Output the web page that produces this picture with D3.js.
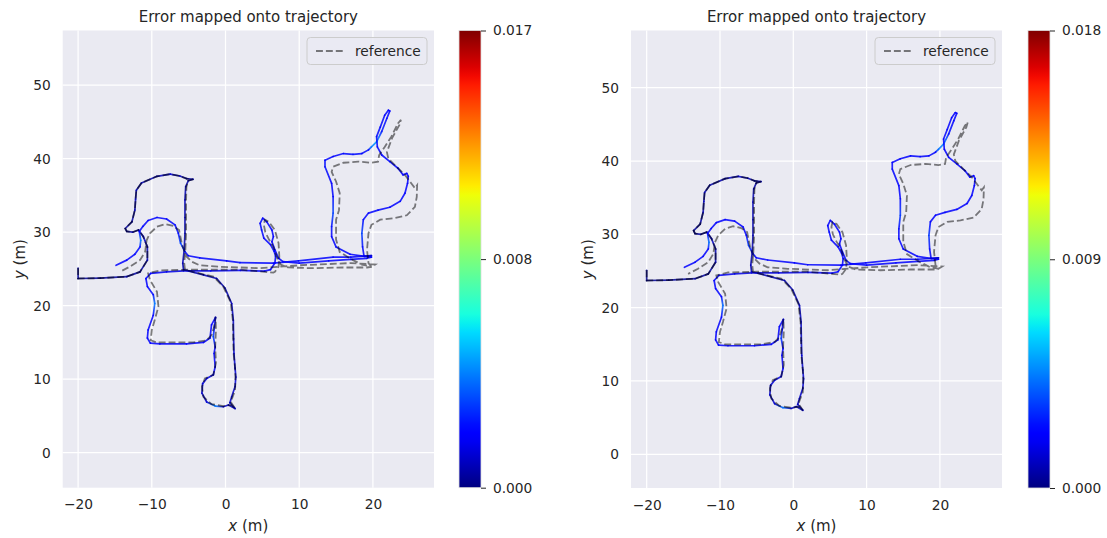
<!DOCTYPE html>
<html><head><meta charset="utf-8">
<script src="https://cdn.jsdelivr.net/npm/d3@7"></script>
<style>body{margin:0;background:#fff}text{font-family:"DejaVu Sans",sans-serif;fill:#262626}</style>
</head><body><svg id="c" width="1107" height="538"></svg>
<script>
// ---------- data ----------
const title = "Error mapped onto trajectory";
const xTicks = [-20, -10, 0, 10, 20];
const yTicks = [0, 10, 20, 30, 40, 50];
const cbMaxLeft = 0.017, cbMaxRight = 0.018;
const cbTicksLeft = [0, 0.0085, 0.017], cbLabelsLeft = ["0.000", "0.008", "0.017"];
const cbTicksRight = [0, 0.009, 0.018], cbLabelsRight = ["0.000", "0.009", "0.018"];
const legendLabel = "reference";

// estimated trajectory: [x, y, error]
const estStart = [[-20,25.1,.0003],[-20,23.7,.0003],[-17,23.75,.0004],[-13.4,23.95,.0004],[-11.6,24.6,.0005],[-10.6,26.2,.0006],[-10.6,28.0,.0008],[-11.15,29.4,.0012],[-11.8,30.3,.0006],[-12.6,30.0,.0005],[-13.4,30.1,.0004],[-13.6,30.5,.0004],[-12.7,31.4,.0005],[-12.3,33.0,.0006],[-12.2,34.5,.0008],[-12.1,35.7,.0006],[-11.4,36.7,.0005],[-9.3,37.6,.0007],[-7.5,37.9,.0012],[-6.2,37.65,.0008],[-5.3,37.3,.0006],[-4.4,37.2,.0005],[-5.05,37.0,.0005],[-5.4,36.2,.0006],[-5.5,34.4,.0008],[-5.5,32.0,.0007],[-5.5,29.85,.0006],[-5.6,27.6,.0007],[-5.8,25.8,.0008],[-5.7,24.9,.0008]];
const estLower = [[-3.0,24.2,.0007],[-1.2,23.7,.0006],[-0.07,22.4,.0006],[0.84,20.3,.0008],[1.06,18.05,.001],[1.1,15.5,.0009],[1.15,13.5,.0011],[1.3,11.5,.0012],[1.4,10.3,.0013],[1.3,9.0,.0012],[0.84,7.6,.001],[0.6,6.8,.0009],[1.3,6.0,.0008],[0.4,6.5,.0009],[-0.3,6.25,.001],[-1.4,6.35,.0042],[-2.55,6.9,.0012],[-3.2,8.1,.001],[-3.1,9.4,.0012],[-2.55,10.1,.0014],[-1.65,10.6,.0016],[-1.4,11.7,.0018],[-1.55,13.5,.0019],[-1.4,14.4,.002],[-1.65,15.8,.0032],[-1.5,17.1,.0023],[-1.35,18.4,.0021],[-1.9,17.4,.0019],[-2.1,15.6,.002],[-3.0,15.0,.0021],[-5.3,14.8,.002],[-8.9,14.8,.0019],[-10.2,14.9,.0021],[-10.6,15.6,.002],[-10.5,16.7,.0019],[-9.8,18.7,.0021],[-9.6,20.3,.0042],[-9.8,21.5,.0023],[-10.6,22.6,.0021],[-10.8,23.7,.002],[-10.15,24.4,.0019]];
const estMiddle = [[-8,24.6,.0016],[-5.7,24.75,.0014],[-2,24.75,.0016],[2,24.8,.0018],[5.3,24.7,.0019],[6.1,24.9,.002],[6.7,25.8,.0021],[6.8,26.7,.0022],[6.6,27.4,.0021],[6.1,28.3,.002],[5.2,29.2,.0021],[4.9,30.3,.0023],[4.7,31.2,.0022],[5.05,31.9,.0021],[5.6,31.4,.002],[6.3,30.3,.0021],[6.5,29.4,.002],[6.3,28.7,.0019],[6.7,27.6,.002],[7.2,26.45,.0021],[7.8,26.0,.002],[10,25.8,.0021],[14,26.1,.002],[17,26.3,.0021],[19.2,26.45,.0022],[19.8,26.6,.002]];
const estRight = [[18.9,26.7,.0019],[16.9,27.0,.0021],[15.0,28.0,.0022],[14.4,29.4,.0021],[14.4,30.75,.0023],[14.6,32.6,.0032],[14.6,34.85,.0022],[14.4,36.65,.0021],[13.5,38.9,.0023],[13.5,39.8,.0022],[14.6,40.3,.0021],[16.0,40.7,.0022],[17.3,40.6,.0023],[18.5,40.7,.0022],[19.4,41.2,.0023],[19.8,41.6,.0042],[20.5,42.3,.0047],[21.2,43.7,.0025],[21.9,45.5,.0022],[22.3,46.5,.0021],[22.1,46.6,.002],[21.6,45.9,.0021],[21.0,44.3,.0022],[20.5,43.0,.0023],[20.6,41.6,.0022],[21.2,40.5,.0021],[22.3,39.6,.0022],[23.4,38.7,.0021],[24.1,37.8,.002],[24.6,38.0,.0021],[24.8,37.6,.0019],[24.7,36.65,.002],[24.35,35.3,.0021],[23.7,34.2,.0022],[22.3,33.4,.0021],[20.7,33.0,.0022],[19.4,32.6,.0021],[18.7,31.7,.0022],[18.5,29.85,.0032],[18.6,28.0,.0023],[18.8,26.7,.0018],[19.8,26.8,.0013]];
const estReturn = [[17,26.6,.0019],[14.6,26.6,.0021],[9.9,26.1,.0022],[6.5,25.8,.0021],[1.97,25.85,.0023],[0.15,26.1,.0021],[-3.5,26.5,.0022],[-5.05,26.8,.0021],[-5.5,27.35,.0023],[-6.1,28.5,.0032],[-6.4,29.85,.0023],[-6.85,31.0,.0022],[-8.0,31.8,.0021],[-9.3,32.0,.0022],[-10.5,31.6,.0021],[-11.2,30.8,.0022],[-11.7,30.1,.0021],[-11.5,28.9,.0042],[-11.6,28.0,.0023],[-12.3,27.0,.0022],[-13.4,26.2,.0021],[-14.85,25.5,.0021]];

// reference trajectory: [x, y]
const refStart = [[-20,25.1],[-20,23.7],[-17,23.75],[-13.4,23.95],[-11.6,24.6],[-10.6,26.2],[-10.6,28.0],[-11.15,29.4],[-11.8,30.3],[-12.6,30.0],[-13.4,30.1],[-13.6,30.5],[-12.7,31.4],[-12.3,33.0],[-12.2,34.5],[-12.1,35.7],[-11.4,36.7],[-9.3,37.6],[-7.5,37.9],[-6.2,37.65],[-5.3,37.3],[-4.4,37.2],[-5.05,37.0],[-5.3,36.2],[-5.35,34.4],[-5.35,32.0],[-5.35,29.85],[-5.45,27.6],[-5.6,25.8],[-5.5,24.9]];
const refLower = [[-4.4,24.6],[-1.65,23.95],[-0.3,22.6],[0.7,20.5],[1.0,18.0],[1.05,15.5],[1.1,13.5],[1.3,11.5],[1.35,10.3],[1.3,8.5],[0.7,6.9],[1.3,6.0],[0.84,6.5],[-0.3,6.35],[-1.9,6.6],[-3.0,7.6],[-3.2,9.0],[-2.8,10.1],[-1.65,10.6],[-1.3,12.2],[-1.4,14.4],[-1.3,16.7],[-1.35,18.5],[-1.55,17.1],[-1.9,16.0],[-2.55,15.3],[-4.4,15.0],[-9.3,15.0],[-10.15,15.3],[-10.0,16.7],[-9.6,18.05],[-9.1,19.9],[-9.3,21.9],[-10.25,23.5],[-10.5,24.4]];
const refMiddle = [[-8.9,24.8],[-5,24.9],[2.0,24.9],[6.5,24.5],[6.7,24.6],[7.2,25.3],[7.3,26.7],[7.2,28.5],[6.7,30.3],[5.9,31.4],[5.35,31.7],[5.2,31.0],[5.4,30.0],[5.9,29.0],[6.5,28.0],[7.0,26.5],[7.5,25.6],[8.5,25.2],[11.9,25.1],[16,25.2],[19.2,25.2],[19.8,25.3]];
const refRight = [[18.5,25.6],[17.3,26.2],[15.5,27.3],[15.0,29.0],[15.0,31.7],[15.4,33.0],[15.5,35.3],[15.0,36.9],[14.4,38.2],[14.6,38.9],[16.0,39.45],[18.0,39.6],[19.8,39.45],[20.7,39.6],[20.85,40.5],[21.6,41.6],[22.5,43.0],[23.4,44.8],[23.8,45.3],[23.6,44.6],[22.6,42.8],[21.9,40.9],[22.1,40.0],[23.2,38.9],[24.35,37.8],[25.2,36.65],[25.7,36.0],[26.0,36.4],[25.95,34.8],[25.7,33.45],[24.6,32.3],[22.8,31.9],[21.0,31.7],[19.8,31.0],[19.4,29.85],[19.2,27.6],[19.4,25.8],[19.8,25.3],[20.3,25.6]];
const refReturn = [[17,25.8],[10.1,25.5],[4.7,25.1],[-0.75,25.3],[-3.5,25.5],[-4.6,26.0],[-5.3,26.7],[-5.9,28.3],[-6.3,30.3],[-7.1,30.85],[-8.2,31.1],[-9.3,30.75],[-10.25,29.85],[-10.7,28.9],[-10.9,27.35],[-11.6,26.2],[-13.0,25.3],[-14.35,24.6]];

const estimate = [].concat(estStart, estLower, estMiddle, estRight, estReturn);
const reference = [].concat(refStart, refLower, refMiddle, refRight, refReturn);

// ---------- jet colormap ----------
function seg(pts, t){ for(let i=1;i<pts.length;i++){ if(t<=pts[i][0]){const a=pts[i-1],b=pts[i];return a[1]+(b[1]-a[1])*(t-a[0])/(b[0]-a[0]);} } return pts[pts.length-1][1]; }
const jR=[[0,0],[0.35,0],[0.66,1],[0.89,1],[1,0.5]];
const jG=[[0,0],[0.125,0],[0.375,1],[0.64,1],[0.91,0],[1,0]];
const jB=[[0,0.5],[0.11,1],[0.34,1],[0.65,0],[1,0]];
function jet(t){ t=Math.max(0,Math.min(1,t)); return d3.rgb(255*seg(jR,t),255*seg(jG,t),255*seg(jB,t)).formatHex(); }

// ---------- layout ----------
const svg = d3.select("#c");
const defs = svg.append("defs");
const panels = [
  {id:"L", plot:[62.7,434,30.5,487.7], xDom:[-22.09,28.29], yDom:[-4.76,57.44], cb:[459,481], cbMax:cbMaxLeft, cbTicks:cbTicksLeft, cbLabels:cbLabelsLeft},
  {id:"R", plot:[631,1002,30.5,488], xDom:[-22.14,28.47], yDom:[-4.6,57.8], cb:[1028,1050], cbMax:cbMaxRight, cbTicks:cbTicksRight, cbLabels:cbLabelsRight}
];

panels.forEach(p => {
  const [l,r,t,b] = p.plot;
  const x = d3.scaleLinear().domain(p.xDom).range([l,r]);
  const y = d3.scaleLinear().domain(p.yDom).range([b,t]);
  const g = svg.append("g");
  g.append("rect").attr("x",l).attr("y",t).attr("width",r-l).attr("height",b-t).attr("fill","#eaeaf2");
  defs.append("clipPath").attr("id","clip"+p.id).append("rect").attr("x",l).attr("y",t).attr("width",r-l).attr("height",b-t);
  // grid
  g.selectAll(".gx").data(xTicks).join("line").attr("x1",d=>x(d)).attr("x2",d=>x(d)).attr("y1",t).attr("y2",b).attr("stroke","#fff").attr("stroke-width",1.25);
  g.selectAll(".gy").data(yTicks).join("line").attr("y1",d=>y(d)).attr("y2",d=>y(d)).attr("x1",l).attr("x2",r).attr("stroke","#fff").attr("stroke-width",1.25);
  // axes tick labels via d3 axes
  const fmt = d => d3.format("")(d).replace("-", "\u2212");
  const ax = g.append("g").attr("transform",`translate(0,${b})`).call(d3.axisBottom(x).tickValues(xTicks).tickSize(0).tickPadding(12).tickFormat(fmt));
  const ay = g.append("g").attr("transform",`translate(${l},0)`).call(d3.axisLeft(y).tickValues(yTicks).tickSize(0).tickPadding(12).tickFormat(fmt));
  [ax,ay].forEach(a=>{ a.select(".domain").remove(); a.selectAll("text").attr("font-size","13.75px").attr("fill","#262626").attr("font-family","DejaVu Sans"); });
  // labels
  const xl = g.append("text").attr("x",(l+r)/2).attr("y",531).attr("text-anchor","middle").attr("font-size","15px");
  xl.append("tspan").attr("font-style","italic").text("x");
  xl.append("tspan").text(" (m)");
  const yl = g.append("text").attr("transform",`translate(${l-38},${(t+b)/2}) rotate(-90)`).attr("text-anchor","middle").attr("font-size","15px");
  yl.append("tspan").attr("font-style","italic").text("y");
  yl.append("tspan").text(" (m)");
  g.append("text").attr("x",(l+r)/2).attr("y",22).attr("text-anchor","middle").attr("font-size","15px").text(title);

  // colored trajectory
  const col = d3.scaleLinear().domain([0,p.cbMax]).range([0,1]);
  const traj = g.append("g").attr("clip-path",`url(#clip${p.id})`);
  for(let i=1;i<estimate.length;i++){
    const a=estimate[i-1], c=estimate[i];
    const gid=`g${p.id}${i}`;
    const gr=defs.append("linearGradient").attr("id",gid).attr("gradientUnits","userSpaceOnUse")
      .attr("x1",x(a[0])).attr("y1",y(a[1])).attr("x2",x(c[0])).attr("y2",y(c[1]));
    gr.append("stop").attr("offset",0).attr("stop-color",jet(col(a[2])));
    gr.append("stop").attr("offset",1).attr("stop-color",jet(col(c[2])));
    traj.append("line").attr("x1",x(a[0])).attr("y1",y(a[1])).attr("x2",x(c[0])).attr("y2",y(c[1]))
      .attr("stroke",`url(#${gid})`).attr("stroke-width",1.7).attr("stroke-opacity",0.85).attr("stroke-linecap","round");
  }
  // reference dashed
  const line = d3.line().x(d=>x(d[0])).y(d=>y(d[1]));
  traj.append("path").attr("d",line(reference)).attr("fill","none").attr("stroke","#000").attr("stroke-opacity",0.5)
    .attr("stroke-width",1.8).attr("stroke-dasharray","6.9,3");

  // legend
  const lw=120, lh=27, lx=r-7-lw, ly=t+7;
  g.append("rect").attr("x",lx).attr("y",ly).attr("width",lw).attr("height",lh).attr("rx",3.5)
    .attr("fill","#eaeaf2").attr("fill-opacity",0.8).attr("stroke","#cccccc").attr("stroke-width",1);
  g.append("line").attr("x1",lx+9).attr("x2",lx+37).attr("y1",ly+lh/2).attr("y2",ly+lh/2)
    .attr("stroke","#000").attr("stroke-opacity",0.5).attr("stroke-width",1.9).attr("stroke-dasharray","6.9,3");
  g.append("text").attr("x",lx+48).attr("y",ly+lh/2+5).attr("font-size","13.75px").text(legendLabel);

  // colorbar
  const [cl,cr]=p.cb;
  const gradId="cb"+p.id;
  const cg=defs.append("linearGradient").attr("id",gradId).attr("x1",0).attr("y1",1).attr("x2",0).attr("y2",0);
  d3.range(0,1.0001,0.02).forEach(s=>cg.append("stop").attr("offset",s).attr("stop-color",jet(s)));
  g.append("rect").attr("x",cl).attr("y",t).attr("width",cr-cl).attr("height",b-t).attr("fill",`url(#${gradId})`)
    .attr("stroke","#dddddd").attr("stroke-width",0.8);
  const cy = d3.scaleLinear().domain([0,p.cbMax]).range([b,t]);
  const cax = g.append("g").attr("transform",`translate(${cr},0)`)
    .call(d3.axisRight(cy).tickValues(p.cbTicks).tickSize(5).tickPadding(7).tickFormat((d,i)=>p.cbLabels[i]));
  cax.select(".domain").remove();
  cax.selectAll("line").attr("stroke","#262626").attr("stroke-width",1);
  cax.selectAll("text").attr("font-size","13.75px").attr("fill","#262626").attr("font-family","DejaVu Sans");
});
</script></body></html>
